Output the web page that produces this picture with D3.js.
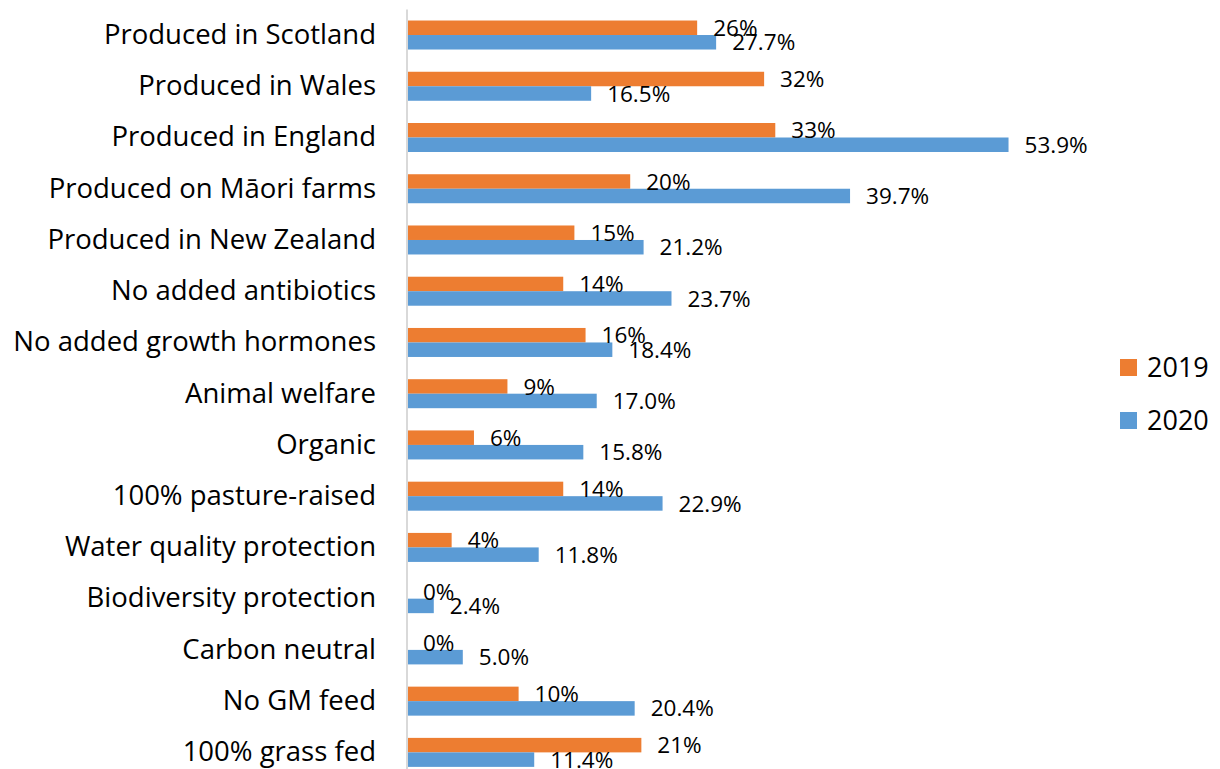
<!DOCTYPE html>
<html>
<head>
<meta charset="utf-8">
<script src="https://cdn.jsdelivr.net/npm/d3@7"></script>
<style>
  html, body { margin: 0; padding: 0; background: #fff; }
  svg { display: block; font-family: "Open Sans", Lato, sans-serif; }
</style>
</head>
<body>
<svg id="chart" width="1220" height="769"></svg>
<script>
// Claimed product attributes, share of respondents by year
const categories = [
  "Produced in Scotland",
  "Produced in Wales",
  "Produced in England",
  "Produced on Māori farms",
  "Produced in New Zealand",
  "No added antibiotics",
  "No added growth hormones",
  "Animal welfare",
  "Organic",
  "100% pasture-raised",
  "Water quality protection",
  "Biodiversity protection",
  "Carbon neutral",
  "No GM feed",
  "100% grass fed"
];
const seriesNames = ["2019", "2020"];
const values2019 = [26, 32, 33, 20, 15, 14, 16, 9, 6, 14, 4, 0, 0, 10, 21];
const values2020 = [27.7, 16.5, 53.9, 39.7, 21.2, 23.7, 18.4, 17.0, 15.8, 22.9, 11.8, 2.4, 5.0, 20.4, 11.4];
const colors = ["#ED7D31", "#5B9BD5"];
const labelFormats = [d3.format(".0f"), d3.format(".1f")];

const svg = d3.select("#chart");

const plot = { left: 407, right: 1076.6, top: 9.4, bottom: 778 };

const x = d3.scaleLinear().domain([0, 60]).range([plot.left, plot.right]);
const y = d3.scaleBand()
  .domain(categories)
  .range([plot.top, plot.bottom])
  .paddingInner(0.434)
  .paddingOuter(0.217);
const ySeries = d3.scaleBand().domain(seriesNames).range([0, y.bandwidth()]);

const rows = categories.map((c, i) => ({
  category: c,
  values: [
    { series: "2019", value: values2019[i], s: 0 },
    { series: "2020", value: values2020[i], s: 1 }
  ]
}));

// Bars
const groups = svg.append("g").selectAll("g")
  .data(rows)
  .join("g")
  .attr("transform", d => `translate(0,${y(d.category)})`);

groups.selectAll("rect")
  .data(d => d.values)
  .join("rect")
  .attr("x", x(0))
  .attr("y", d => ySeries(d.series))
  .attr("width", d => x(d.value) - x(0))
  .attr("height", ySeries.bandwidth())
  .attr("fill", d => colors[d.s]);

// Value labels at the end of each bar
groups.selectAll("text")
  .data(d => d.values)
  .join("text")
  .attr("x", d => x(d.value) + 16)
  .attr("y", d => ySeries(d.series) + ySeries.bandwidth() / 2)
  .attr("dy", "0.36em")
  .attr("font-size", 22.5)
  .attr("fill", "#000")
  .text(d => labelFormats[d.s](d.value) + "%");

// Category axis
const yAxis = d3.axisLeft(y).tickSize(0).tickPadding(31);
const axisG = svg.append("g")
  .attr("transform", `translate(${plot.left},0)`)
  .call(yAxis);
axisG.select(".domain").remove();
axisG.selectAll("text")
  .attr("font-size", 27.5)
  .attr("font-family", "'Open Sans', Lato, sans-serif")
  .attr("fill", "#000");

svg.append("line")
  .attr("x1", plot.left).attr("x2", plot.left)
  .attr("y1", plot.top).attr("y2", plot.bottom)
  .attr("stroke", "#d9d9d9")
  .attr("stroke-width", 2);

// Legend
const legend = svg.append("g").attr("transform", "translate(1120,367.5)");
const legendItems = legend.selectAll("g")
  .data(seriesNames)
  .join("g")
  .attr("transform", (d, i) => `translate(0,${i * 53})`);
legendItems.append("rect")
  .attr("x", 0).attr("y", -8.5)
  .attr("width", 17).attr("height", 17)
  .attr("fill", (d, i) => colors[i]);
legendItems.append("text")
  .attr("x", 27)
  .attr("dy", "0.36em")
  .attr("font-size", 27)
  .attr("fill", "#000")
  .text(d => d);
</script>
</body>
</html>
